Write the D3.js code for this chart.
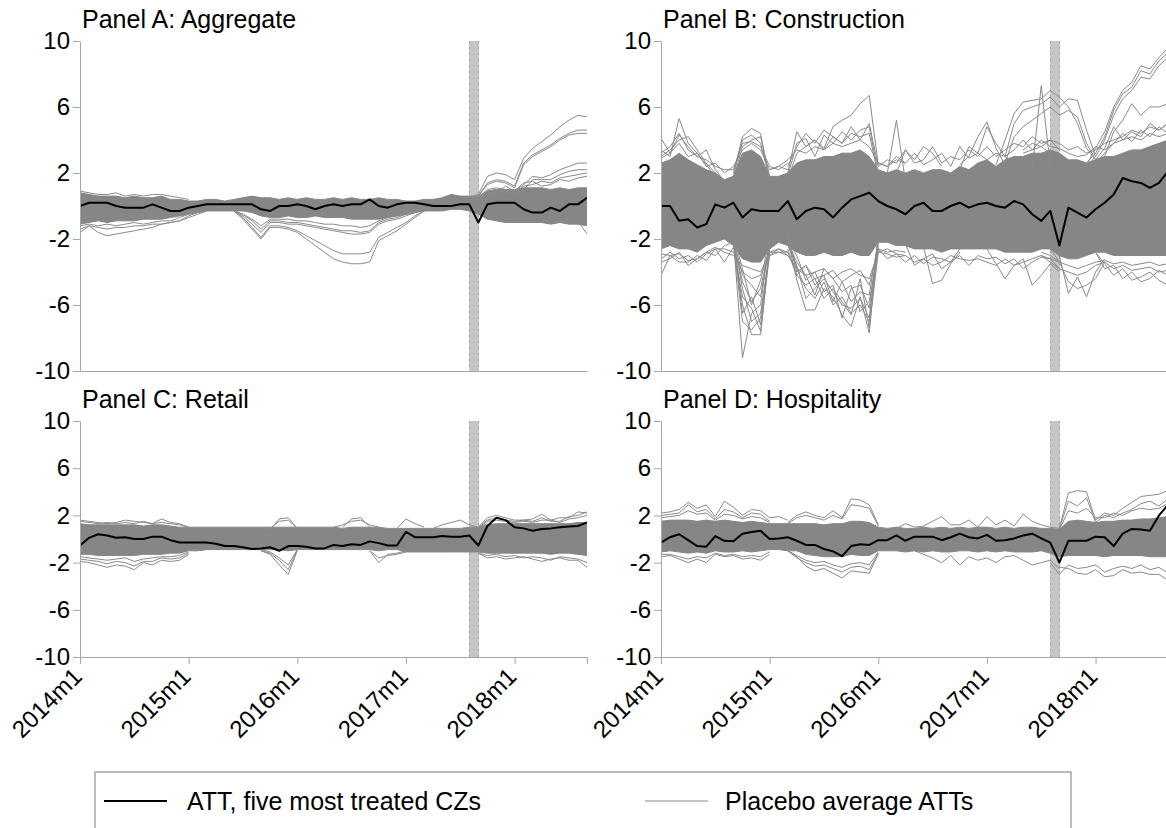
<!DOCTYPE html>
<html>
<head>
<meta charset="utf-8">
<script src="https://cdn.jsdelivr.net/npm/d3@7"></script>
<style>
  body { margin: 0; background: #fff; }
  svg { display: block; font-family: "Liberation Sans", Arial, sans-serif; }
</style>
</head>
<body>
<script>
// ---- data ----
var yTicks = [-10, -6, -2, 2, 6, 10];
var xTickMonths = [0, 12, 24, 36, 48];
var xTickLabels = ["2014m1", "2015m1", "2016m1", "2017m1", "2018m1"];
var stormMonths = [43, 44];   // 2017m8 - 2017m9
var panelTitles = ["Panel A: Aggregate", "Panel B: Construction", "Panel C: Retail", "Panel D: Hospitality"];
var legendLabels = ["ATT, five most treated CZs", "Placebo average ATTs"];

// ATT of the five most treated CZs, 2014m1 .. 2018m9
var attA = [0.0,0.2,0.2,0.2,0.0,-0.1,-0.1,-0.1,0.1,-0.1,-0.3,-0.3,
            -0.1,0.0,0.1,0.1,0.1,0.1,0.1,0.1,-0.2,-0.3,0.0,0.0,
            0.1,0.0,-0.2,0.0,0.1,0.0,0.1,0.1,0.4,0.0,-0.1,0.1,
            0.2,0.2,0.1,0.0,0.0,0.0,0.1,0.1,-1.0,0.1,0.2,0.2,
            0.2,-0.2,-0.4,-0.4,-0.1,-0.3,0.1,0.1,0.5];
var attB = [0.0,0.0,-0.9,-0.8,-1.3,-1.1,0.1,-0.1,0.2,-0.7,-0.2,-0.3,
            -0.3,-0.3,0.3,-0.8,-0.3,-0.1,-0.2,-0.7,-0.1,0.4,0.6,0.8,
            0.3,0.0,-0.2,-0.5,0.0,0.2,-0.3,-0.3,0.0,0.2,-0.1,0.1,
            0.2,0.0,-0.1,0.3,0.1,-0.5,-0.9,-0.3,-2.4,-0.1,-0.4,-0.7,
            -0.2,0.2,0.7,1.7,1.5,1.4,1.1,1.4,2.1];
var attC = [-0.55,0.1,0.4,0.3,0.1,0.15,0.0,0.0,0.2,0.2,-0.1,-0.3,
            -0.3,-0.3,-0.3,-0.4,-0.6,-0.6,-0.7,-0.85,-0.8,-0.7,-1.0,-0.6,
            -0.6,-0.65,-0.8,-0.8,-0.5,-0.6,-0.45,-0.5,-0.2,-0.35,-0.55,-0.55,
            0.6,0.15,0.15,0.15,0.25,0.2,0.2,0.3,-0.55,1.1,1.8,1.6,
            1.0,0.9,0.7,0.85,0.9,1.0,1.05,1.1,1.4];
var attD = [-0.3,0.15,0.4,-0.1,-0.6,-0.65,0.25,-0.15,-0.2,0.45,0.6,0.7,
            0.0,0.05,0.15,-0.15,-0.5,-0.5,-0.85,-1.05,-1.45,-0.6,-0.45,-0.5,
            -0.1,-0.1,0.3,-0.15,0.2,0.2,0.2,-0.1,0.15,0.45,0.15,0.05,
            0.35,-0.15,-0.1,0.05,0.3,0.45,0.05,-0.3,-2.0,-0.15,-0.15,-0.15,
            0.2,0.15,-0.6,0.45,0.85,0.8,0.7,2.0,2.9];

// dense core of the placebo lines: upper and lower edge per month
var bandHiA = [0.8,0.7,0.6,0.6,0.6,0.5,0.6,0.5,0.5,0.6,0.4,0.4,
               0.3,0.3,0.4,0.4,0.3,0.4,0.5,0.6,0.5,0.5,0.4,0.5,
               0.4,0.5,0.4,0.4,0.5,0.4,0.5,0.4,0.4,0.5,0.4,0.4,
               0.3,0.3,0.4,0.4,0.5,0.7,0.6,0.6,0.6,0.9,1.0,1.0,
               1.0,1.1,1.1,1.1,1.0,1.1,1.0,1.1,1.1];
var bandLoA = [-1.1,-1.0,-0.9,-1.0,-0.9,-0.9,-0.9,-0.8,-0.8,-0.8,-0.7,-0.6,
               -0.5,-0.4,-0.3,-0.3,-0.3,-0.3,-0.3,-0.4,-0.6,-0.7,-0.7,-0.6,
               -0.7,-0.7,-0.6,-0.7,-0.7,-0.7,-0.8,-0.8,-0.8,-0.8,-0.7,-0.6,
               -0.5,-0.4,-0.3,-0.3,-0.3,-0.2,-0.2,-0.3,-0.5,-0.8,-0.9,-1.0,
               -1.0,-1.0,-1.0,-1.0,-1.1,-1.0,-1.1,-1.1,-1.2];
var bandHiB = [2.6,2.8,3.2,2.8,2.5,2.2,2.0,1.6,1.8,3.2,3.4,3.0,
               1.8,1.8,2.0,2.6,2.8,2.8,3.0,3.0,3.2,3.2,3.4,3.0,
               2.2,2.0,2.2,2.0,2.2,2.0,2.2,2.2,2.0,2.4,2.2,2.6,
               2.8,2.4,2.8,3.0,3.0,3.2,3.2,3.4,3.2,2.8,2.8,2.6,
               2.8,3.0,3.0,3.2,3.4,3.4,3.6,3.8,4.0];
var bandLoB = [-2.6,-2.4,-2.6,-2.6,-2.8,-2.4,-2.2,-2.0,-2.4,-3.2,-3.4,-3.4,
               -2.6,-2.2,-2.4,-2.8,-3.0,-3.0,-2.8,-3.0,-3.0,-2.8,-3.0,-3.0,
               -2.2,-2.2,-2.4,-2.4,-2.6,-2.6,-2.6,-2.8,-2.6,-2.6,-2.6,-2.6,
               -2.6,-2.6,-2.8,-2.8,-2.8,-2.8,-2.6,-2.6,-3.0,-3.2,-3.2,-3.0,
               -2.8,-2.8,-3.0,-3.0,-3.0,-3.0,-3.0,-3.0,-3.0];
var bandHiC = [1.3,1.2,1.2,1.2,1.2,1.2,1.2,1.1,1.2,1.2,1.1,1.0,
               1.0,1.0,1.0,1.0,1.0,1.0,1.0,1.0,1.0,1.0,1.0,1.0,
               1.0,1.0,1.0,1.0,1.0,0.9,1.0,1.0,1.0,1.0,0.9,0.9,
               0.9,0.9,0.9,0.9,0.9,0.9,0.9,1.0,1.0,1.2,1.3,1.3,
               1.3,1.3,1.3,1.3,1.3,1.3,1.3,1.4,1.4];
var bandLoC = [-1.3,-1.3,-1.4,-1.4,-1.4,-1.4,-1.4,-1.3,-1.3,-1.3,-1.2,-1.2,
               -1.0,-1.0,-0.9,-0.9,-0.9,-0.9,-0.9,-0.9,-0.9,-0.9,-0.9,-1.0,
               -0.9,-0.9,-0.9,-0.9,-0.9,-0.9,-0.9,-0.9,-0.9,-1.0,-0.9,-0.9,
               -1.1,-1.1,-1.1,-1.1,-1.1,-1.1,-1.1,-1.1,-1.1,-1.2,-1.2,-1.2,
               -1.2,-1.2,-1.2,-1.2,-1.3,-1.2,-1.2,-1.3,-1.4];
var bandHiD = [1.5,1.6,1.6,1.6,1.5,1.6,1.5,1.6,1.5,1.4,1.5,1.4,
               1.3,1.3,1.3,1.3,1.3,1.3,1.2,1.3,1.3,1.5,1.5,1.4,
               1.0,0.9,1.0,0.9,0.9,1.0,0.9,1.0,0.9,1.0,0.9,1.0,
               1.0,0.9,1.0,0.9,1.0,1.0,0.9,0.9,0.8,1.5,1.6,1.5,
               1.4,1.5,1.5,1.6,1.6,1.7,1.7,1.8,1.9];
var bandLoD = [-1.1,-1.0,-1.1,-1.2,-1.1,-1.2,-1.0,-1.1,-1.1,-1.0,-1.1,-1.0,
               -0.9,-0.9,-1.0,-1.0,-1.3,-1.4,-1.5,-1.5,-1.5,-1.3,-1.4,-1.4,
               -1.0,-1.0,-1.0,-1.1,-1.0,-1.1,-1.0,-1.1,-1.1,-1.0,-1.0,-1.1,
               -1.0,-1.1,-1.0,-1.1,-1.1,-1.1,-1.0,-1.2,-1.5,-1.4,-1.4,-1.4,
               -1.4,-1.5,-1.4,-1.4,-1.4,-1.4,-1.5,-1.5,-1.5];

// placebo lines where they leave the dense core: first month + values
var outA = [
  {from: 43, v: [0.5,0.7,1.8,2.0,1.9,1.6,2.9,3.5,3.9,4.3,4.8,5.2,5.5,5.4]},
  {from: 43, v: [0.5,0.6,1.4,1.6,1.5,1.2,2.6,3.1,3.4,3.7,4.1,4.4,4.6,4.6]},
  {from: 43, v: [0.5,0.6,1.3,1.5,1.4,1.1,2.5,3.0,3.3,3.6,4.0,4.3,4.4,4.4]},
  {from: 43, v: [0.4,0.5,1.0,1.1,1.0,0.9,1.3,1.8,1.7,1.9,2.2,2.4,2.6,2.6]},
  {from: 43, v: [0.4,0.5,0.9,1.0,0.9,0.8,1.0,1.6,1.6,1.6,1.9,2.1,2.2,2.2]},
  {from: 43, v: [0.4,0.5,0.8,0.9,0.8,0.8,1.2,1.3,1.5,1.4,1.7,1.8,1.9,2.0]},
  {from: 43, v: [0.3,0.4,0.7,0.8,1.2,0.9,1.4,1.5,1.2,1.3,1.6,1.5,1.7,1.8]},
  {from: 52, v: [-0.9,-1.0,-0.9,-0.9,-1.7]},
  {from: 17, v: [-0.3,-0.8,-1.4,-2.0,-1.3,-1.3,-1.4,-1.6,-2.0,-2.4,-2.8,-3.2,-3.4,-3.5,-3.5,-3.4,-2.1,-1.8,-1.5,-1.1,-0.7,-0.3,-0.1]},
  {from: 17, v: [-0.3,-0.7,-1.3,-1.9,-1.2,-1.2,-1.3,-1.5,-1.8,-2.1,-2.4,-2.7,-2.9,-2.9,-2.9,-2.8,-1.9,-1.6,-1.3,-1.0,-0.6,-0.3,-0.1]},
  {from: 17, v: [-0.3,-0.6,-1.1,-1.6,-1.0,-1.0,-1.1,-1.1,-1.2,-1.3,-1.4,-1.5,-1.6,-1.7,-1.7,-1.6,-1.1,-0.9,-0.8,-0.6,-0.4,-0.2,-0.1]},
  {from: 17, v: [-0.3,-0.5,-0.9,-1.4,-0.9,-0.9,-1.0,-1.0,-1.1,-1.2,-1.3,-1.4,-1.5,-1.5,-1.6,-1.5,-1.0,-0.8,-0.7,-0.5,-0.4,-0.2,-0.1]},
  {from: 17, v: [-0.3,-0.5,-0.8,-1.2,-0.8,-0.8,-0.8,-0.9,-0.9,-1.0,-1.1,-1.1,-1.2,-1.2,-1.3,-1.2,-0.9,-0.7,-0.6,-0.5,-0.3,-0.2,-0.1]},
  {from: 0, v: [-1.6,-1.2,-1.6,-1.8,-1.7,-1.6,-1.5,-1.4,-1.3,-1.1,-1.0,-0.9,-0.7,-0.5,-0.3]},
  {from: 0, v: [-1.4,-1.2,-1.3,-1.4,-1.3,-1.3,-1.2,-1.2,-1.1,-1.1,-1.0,-0.9,-0.6,-0.4,-0.3]},
  {from: 0, v: [-1.2,-1.1,-1.2,-1.1,-1.2,-1.1,-1.0,-1.1,-1.0,-0.9,-0.9,-0.7,-0.5,-0.3]},
  {from: 0, v: [0.9,0.8,0.7,0.7,0.8,0.6,0.7,0.6,0.7,0.7,0.6,0.5,0.4]}
];
var outB = [
  {from: 0, v: [4.1,3.2,4.3,3.6,3.0,3.4,2.2,1.5]},
  {from: 0, v: [3.4,3.0,5.3,3.8,3.2,2.5,1.8]},
  {from: 0, v: [3.0,3.4,4.0,4.2,3.4,2.6,2.0,1.4]},
  {from: 0, v: [3.2,3.6,4.4,3.4,3.0,2.8,2.4,2.2,2.2,3.8,3.9,3.6,2.4,2.2,2.6]},
  {from: 0, v: [2.9,3.2,3.8,3.0,3.2,2.4,2.6,2.0,2.4,3.4,3.8,3.4,2.2,2.4,2.2]},
  {from: 0, v: [-4.2,-3.0,-3.4,-3.4,-3.0,-3.3,-2.6,-3.4,-2.5,-2.0]},
  {from: 0, v: [-3.4,-3.2,-2.8,-3.6,-3.2,-2.8,-3.0,-2.4,-2.2]},
  {from: 0, v: [-3.2,-2.8,-3.2,-3.0,-3.4,-2.9,-2.6,-2.6,-2.8,-4.0,-4.4,-4.2,-3.0,-2.6,-2.8]},
  {from: 0, v: [-2.9,-3.0,-2.9,-3.3,-3.2,-2.8,-2.5,-2.8,-3.0,-3.6,-3.8,-4.0,-2.8,-2.8,-3.0]},
  {from: 8, v: [-2.0,-9.2,-6.5,-6.0,-2.0]},
  {from: 8, v: [-2.2,-6.0,-7.8,-7.8,-2.5]},
  {from: 8, v: [-2.0,-5.0,-7.0,-6.5,-3.0]},
  {from: 8, v: [-2.0,-6.5,-5.5,-7.2,-2.4]},
  {from: 8, v: [-2.0,-4.2,-4.8,-5.5,-2.2]},
  {from: 8, v: [-1.8,-3.8,-6.0,-4.5,-2.0]},
  {from: 8, v: [-2.2,-7.0,-7.5,-6.8,-2.6]},
  {from: 8, v: [-2.4,-5.5,-6.2,-7.6,-2.8]},
  {from: 8, v: [-2.2,-4.6,-5.8,-5.0,-2.4]},
  {from: 8, v: [2.0,4.2,4.7,4.4,1.5]},
  {from: 8, v: [1.8,4.0,4.3,3.8,1.6]},
  {from: 8, v: [1.6,3.6,4.0,4.2,1.8]},
  {from: 12, v: [2.2,2.4,2.8,3.4,3.2,3.6,3.4,3.8,3.6,3.8,4.0,3.6,2.6,2.4,2.8,2.6]},
  {from: 12, v: [-2.8,-2.6,-3.0,-3.8,-4.2,-4.0,-3.8,-4.4,-4.0,-3.8,-4.2,-4.4,-2.8,-2.6,-2.9,-3.0]},
  {from: 12, v: [-3.0,-2.8,-2.8,-4.2,-3.6,-4.4,-4.2,-3.9,-4.6,-4.2,-3.9,-4.8,-2.6,-2.8,-2.7,-2.8]},
  {from: 14, v: [-2.0,-4.5,-6.3,-6.3,-5.0,-5.5,-6.6,-7.3,-5.5,-7.7,-2.0]},
  {from: 14, v: [-1.8,-3.8,-5.0,-5.6,-4.6,-6.0,-5.5,-6.5,-6.0,-7.0,-1.8]},
  {from: 14, v: [-2.2,-3.0,-4.5,-4.0,-5.2,-4.8,-6.8,-5.0,-4.8,-6.2,-2.2]},
  {from: 14, v: [-2.0,-4.0,-3.6,-4.8,-4.2,-5.8,-4.6,-5.8,-5.2,-5.4,-2.0]},
  {from: 14, v: [-2.4,-3.6,-5.6,-5.0,-4.4,-5.2,-6.0,-6.2,-5.6,-6.8,-2.4]},
  {from: 14, v: [-2.2,-3.4,-4.2,-5.4,-3.8,-4.4,-5.2,-4.8,-6.4,-5.8,-2.6]},
  {from: 14, v: [-2.6,-4.2,-4.8,-4.4,-5.6,-5.0,-5.8,-6.6,-4.4,-7.4,-2.8]},
  {from: 14, v: [2.0,4.5,3.6,4.0,3.5,4.8,5.2,5.5,6.2,6.7,2.5]},
  {from: 14, v: [1.8,3.8,4.1,3.0,4.3,3.8,4.5,4.0,4.6,4.8,2.0]},
  {from: 14, v: [1.6,3.2,3.6,4.0,3.4,4.2,3.8,4.4,4.2,4.4,1.8]},
  {from: 14, v: [2.4,3.6,4.4,3.8,4.6,4.2,3.8,4.8,4.0,5.0,2.4]},
  {from: 24, v: [2.4,2.8,2.6,3.4,2.6,2.8,3.6,2.6,3.0,2.8,3.4,3.0,3.6,3.0,3.4,3.8,3.6,4.2,3.8,4.0,3.4]},
  {from: 24, v: [2.6,2.4,3.0,2.6,3.2,2.5,2.8,3.2,2.4,3.6,2.9,3.2,2.8,3.2,3.0,3.4,4.0,3.4,3.6,3.2,3.0]},
  {from: 24, v: [-2.8,-2.9,-3.1,-3.0,-3.4,-3.2,-3.6,-3.4,-3.0,-3.2,-3.3,-3.2,-3.4,-3.6,-3.2,-3.6,-3.4,-3.2,-3.0,-3.4,-3.8]},
  {from: 24, v: [-2.6,-3.2,-2.9,-3.4,-3.0,-3.5,-3.1,-3.2,-3.4,-3.0,-3.6,-3.0,-3.2,-3.1,-3.5,-3.2,-3.8,-3.4,-3.1,-3.2,-3.4]},
  {from: 25, v: [2.0,5.2,1.5]},
  {from: 26, v: [2.0,3.4,2.8,3.6,3.2,2.4]},
  {from: 29, v: [-2.5,-4.7,-4.5,-3.5,-2.8]},
  {from: 27, v: [-2.3,-3.6,-3.2,-2.9,-3.8,-3.4,-2.6]},
  {from: 33, v: [2.5,3.0,4.2,5.1,3.5,2.5]},
  {from: 33, v: [2.2,3.6,3.2,4.8,3.8,3.0,2.6]},
  {from: 37, v: [2.5,4.0,5.6,6.3,6.4,6.5,7.0,6.6,6.0,5.0,3.5,2.8]},
  {from: 38, v: [3.0,5.0,5.8,6.0,6.2,6.6,6.0,6.5,6.4,4.6,3.0]},
  {from: 38, v: [2.6,4.2,4.8,5.2,5.6,6.0,5.5,5.8,5.4,3.8,2.8]},
  {from: 40, v: [3.4,3.8,3.6,4.0,3.8,3.4,3.6,3.2,3.4,3.8,4.0,4.2,4.6,4.4,4.8,4.6,5.0]},
  {from: 40, v: [3.2,3.4,4.0,3.6,3.5,3.2,3.0,3.1,3.6,3.4,3.8,4.0,4.2,4.0,4.4,4.2,4.4]},
  {from: 41, v: [2.2,7.3,2.4]},
  {from: 36, v: [-2.6,-3.5,-4.4,-3.6,-3.2,-4.8,-4.2,-3.5,-4.0]},
  {from: 42, v: [-3.0,-3.2,-3.8,-4.0,-4.2,-4.0,-3.6,-3.4,-3.8,-3.6,-3.9,-3.8,-3.7,-4.0,-3.9]},
  {from: 42, v: [-2.8,-3.0,-3.4,-3.6,-3.8,-3.6,-3.4,-3.3,-3.5,-3.4,-3.6,-3.5,-3.4,-3.6,-3.5]},
  {from: 43, v: [-2.6,-3.0,-5.3,-4.3,-5.5,-4.0,-3.2]},
  {from: 43, v: [-2.6,-3.4,-4.6,-5.0,-4.8,-4.4,-3.4]},
  {from: 47, v: [2.5,3.5,4.5,6.0,7.0,7.5,8.5,8.3,9.0,9.6]},
  {from: 47, v: [2.6,3.2,4.2,5.8,6.8,7.2,8.2,8.0,8.8,9.3]},
  {from: 47, v: [2.4,3.0,4.0,5.5,6.5,7.0,7.8,7.7,8.5,9.0]},
  {from: 48, v: [2.8,3.0,4.5,5.2,6.2,5.5,6.0,6.0,6.2]},
  {from: 48, v: [2.8,3.5,4.8,4.0,4.5,4.2,5.0,4.6,5.0]},
  {from: 48, v: [2.6,3.2,3.8,4.4,3.9,4.6,4.2,4.8,4.4]},
  {from: 48, v: [-2.8,-3.5,-4.2,-3.8,-4.5,-4.3,-4.0,-4.5,-4.8]},
  {from: 48, v: [-2.8,-3.8,-3.6,-4.4,-4.0,-4.6,-4.4,-3.9,-4.2]}
];
var outC = [
  {from: 0, v: [-1.9,-2.0,-2.2,-2.4,-2.2,-2.3,-2.6,-2.0,-2.2,-1.8,-1.9,-1.8,-1.3]},
  {from: 0, v: [-1.7,-1.8,-1.9,-2.1,-1.9,-2.0,-2.3,-1.9,-1.9,-1.6,-1.7,-1.6,-1.2]},
  {from: 0, v: [-1.5,-1.6,-1.7,-1.8,-1.7,-1.6,-1.9,-1.7,-1.6,-1.5,-1.5,-1.4,-1.1]},
  {from: 0, v: [1.6,1.5,1.4,1.3,1.4,1.6,1.5,1.4,1.3,1.7,1.4,1.3,1.0]},
  {from: 0, v: [1.5,1.4,1.3,1.4,1.3,1.4,1.3,1.5,1.3,1.4,1.3,1.2,1.0]},
  {from: 20, v: [0.9,0.8,1.7,1.8,0.9]},
  {from: 20, v: [0.9,0.9,1.5,1.6,0.9]},
  {from: 20, v: [-1.0,-1.3,-2.2,-3.0,-1.0]},
  {from: 20, v: [-1.0,-1.2,-1.8,-2.6,-0.9]},
  {from: 20, v: [-0.9,-1.1,-1.6,-2.2,-0.9]},
  {from: 29, v: [1.0,1.7,1.8,1.0]},
  {from: 28, v: [1.0,1.2,1.5,1.6,1.2,1.0]},
  {from: 32, v: [-1.0,-2.0,-1.3,-1.2,-1.0]},
  {from: 32, v: [-1.0,-1.6,-1.4,-1.3,-1.1]},
  {from: 35, v: [0.9,1.7,1.3,1.0]},
  {from: 39, v: [0.9,1.2,1.4,1.6,1.2,1.0,1.3]},
  {from: 44, v: [1.0,1.8,2.0,1.8,1.6,1.6,1.7,2.1,1.6,1.8,1.8,2.3,2.2]},
  {from: 44, v: [1.0,1.6,1.8,1.6,1.5,1.6,1.5,1.8,1.5,1.5,1.9,2.0,2.3]},
  {from: 44, v: [1.0,1.5,1.6,1.5,1.4,1.5,1.4,1.6,1.6,1.4,1.7,1.8,2.0]},
  {from: 44, v: [-1.2,-1.6,-1.5,-1.7,-1.6,-1.5,-1.7,-1.9,-1.7,-1.6,-1.8,-1.8,-2.4]},
  {from: 44, v: [-1.2,-1.4,-1.3,-1.5,-1.4,-1.6,-1.5,-1.6,-1.8,-1.5,-1.6,-1.7,-2.0]}
];
var outD = [
  {from: 0, v: [2.2,2.3,2.5,3.1,2.6,2.9,1.9,3.2,2.7,2.0,2.5,2.4,1.8,1.9,1.6]},
  {from: 0, v: [2.0,2.1,2.2,2.9,2.3,2.5,1.7,2.5,2.3,1.8,2.2,2.1,1.5]},
  {from: 0, v: [1.8,1.9,2.0,2.4,2.1,2.2,1.6,2.1,2.0,1.7,1.9,1.8,1.4]},
  {from: 0, v: [-1.5,-1.4,-1.7,-2.0,-1.7,-2.0,-1.3,-1.5,-1.4,-1.7,-1.6,-1.8,-1.3]},
  {from: 0, v: [-1.3,-1.3,-1.5,-1.7,-1.5,-1.6,-1.2,-1.4,-1.3,-1.5,-1.4,-1.5,-1.1]},
  {from: 14, v: [1.4,2.0,2.3,2.0,1.8,2.4,1.8,3.4,3.3,2.9,1.2]},
  {from: 14, v: [1.3,1.8,2.0,1.8,1.6,2.0,1.7,2.9,2.8,2.6,1.1]},
  {from: 14, v: [-1.0,-1.5,-2.3,-2.7,-2.5,-2.9,-3.3,-2.7,-2.8,-2.9,-1.3]},
  {from: 14, v: [-1.0,-1.6,-2.0,-2.3,-2.2,-2.5,-2.8,-2.4,-2.3,-2.6,-1.2]},
  {from: 14, v: [-1.0,-1.4,-1.8,-2.0,-1.9,-2.2,-2.4,-2.1,-2.0,-2.2,-1.1]},
  {from: 26, v: [0.9,1.3,1.0,1.1,1.5,1.9,1.2,1.2,1.6,1.0,1.9,1.2,1.6,1.1,2.1,1.5,1.2,1.0,0.9]},
  {from: 28, v: [-1.0,-1.3,-1.6,-2.0,-1.4,-2.2,-1.5,-1.8,-1.6,-2.0,-1.5,-1.4,-1.8,-2.2,-2.0,-1.8,-2.5]},
  {from: 44, v: [0.9,3.9,4.1,4.0,1.6,2.2,2.0,2.6,3.1,3.6,3.7,3.8,4.1]},
  {from: 44, v: [0.9,3.2,2.8,3.5,1.4,2.0,1.8,2.2,2.5,3.0,3.2,2.8,3.4]},
  {from: 44, v: [0.8,2.4,2.2,2.6,1.8,1.8,2.2,2.0,2.4,2.6,2.5,2.6,3.0]},
  {from: 44, v: [-2.4,-2.5,-2.9,-3.0,-2.6,-3.2,-3.1,-2.6,-2.9,-2.8,-3.0,-3.0,-3.5]},
  {from: 43, v: [-2.0,-3.0,-2.2,-2.5,-2.4,-2.2,-2.8,-2.5,-2.3,-2.5,-2.2,-2.6,-2.4,-2.9]}
];

// ---- layout ----
var W = 1166, H = 828;
var plotW = 507;
var panels = [
  {title: panelTitles[0], att: attA, hi: bandHiA, lo: bandLoA, out: outA, left: 80,  top: 41,  bottom: 371, labels: false},
  {title: panelTitles[1], att: attB, hi: bandHiB, lo: bandLoB, out: outB, left: 661, top: 41,  bottom: 371, labels: false},
  {title: panelTitles[2], att: attC, hi: bandHiC, lo: bandLoC, out: outC, left: 80,  top: 421, bottom: 657, labels: true},
  {title: panelTitles[3], att: attD, hi: bandHiD, lo: bandLoD, out: outD, left: 661, top: 421, bottom: 657, labels: true}
];

var axisColor = "#a6a6a6";
var lineGray = "#8a8a8a";
var fontFam = "'Liberation Sans', Arial, sans-serif";

var svg = d3.select("body").append("svg")
    .attr("width", W).attr("height", H);

svg.append("rect").attr("width", W).attr("height", H).attr("fill", "#fff");

panels.forEach(function (p, i) {
  var x = d3.scaleLinear().domain([0, 56]).range([p.left, p.left + plotW]);
  var y = d3.scaleLinear().domain([-10, 10]).range([p.bottom, p.top]);

  var clipId = "clip" + i;
  svg.append("clipPath").attr("id", clipId)
    .append("rect")
      .attr("x", p.left).attr("y", p.top)
      .attr("width", plotW).attr("height", p.bottom - p.top);

  var g = svg.append("g");
  var plot = g.append("g").attr("clip-path", "url(#" + clipId + ")");

  // hurricane month band
  var bx0 = Math.round(x(stormMonths[0])), bx1 = Math.round(x(stormMonths[1])) + 1;
  plot.append("rect")
    .attr("x", bx0).attr("y", p.top)
    .attr("width", bx1 - bx0).attr("height", p.bottom - p.top)
    .attr("fill", "#c6c6c6");
  [bx0 + 0.5, bx1 - 0.5].forEach(function (bx) {
    plot.append("line")
      .attr("x1", bx).attr("x2", bx)
      .attr("y1", p.top).attr("y2", p.bottom)
      .attr("stroke", "#a2a2a2").attr("stroke-width", 1)
      .attr("stroke-dasharray", "2,4");
  });

  // dense core of placebo lines
  var months = d3.range(p.hi.length);
  var area = d3.area()
      .x(function (m) { return x(m); })
      .y0(function (m) { return y(p.lo[m]); })
      .y1(function (m) { return y(p.hi[m]); });
  plot.append("path")
    .attr("d", area(months))
    .attr("fill", "#868686")
    .attr("stroke", "#868686")
    .attr("stroke-width", 1);

  // outlying placebo lines
  var seg = d3.line()
      .x(function (d) { return x(d[0]); })
      .y(function (d) { return y(d[1]); });
  p.out.forEach(function (o) {
    var pts = o.v.map(function (v, k) { return [o.from + k, v]; });
    plot.append("path")
      .attr("d", seg(pts))
      .attr("fill", "none")
      .attr("stroke", lineGray)
      .attr("stroke-width", 1);
  });

  // ATT line
  var attLine = d3.line()
      .x(function (d, k) { return x(k); })
      .y(function (d) { return y(d); });
  plot.append("path")
    .attr("d", attLine(p.att))
    .attr("fill", "none")
    .attr("stroke", "#000")
    .attr("stroke-width", 2)
    .attr("stroke-linejoin", "round");

  // y axis
  var yAxis = d3.axisLeft(y).tickValues(yTicks).tickSize(7).tickSizeOuter(0).tickPadding(3)
      .tickFormat(function (d) { return String(d); });
  var yg = g.append("g").attr("transform", "translate(" + p.left + ",0)").call(yAxis);
  yg.select(".domain").attr("stroke", axisColor);
  yg.selectAll(".tick line").attr("stroke", axisColor);
  yg.selectAll("text")
    .attr("fill", "#000")
    .style("font-size", "24px")
    .style("font-family", fontFam);

  // x axis
  var xAxis = d3.axisBottom(x).tickSizeOuter(0);
  if (p.labels) {
    xAxis.tickValues(xTickMonths).tickSize(7)
      .tickFormat(function (d, k) { return xTickLabels[k]; });
  } else {
    xAxis.tickValues([]).tickSize(0);
  }
  var xg = g.append("g").attr("transform", "translate(0," + p.bottom + ")").call(xAxis);
  xg.select(".domain").attr("stroke", axisColor);
  xg.selectAll(".tick line").attr("stroke", axisColor);
  xg.selectAll("text")
    .attr("fill", "#000")
    .attr("x", 0).attr("y", 0).attr("dy", "0.35em")
    .attr("transform", "translate(-3,15) rotate(-45)")
    .style("text-anchor", "end")
    .style("font-size", "24px")
    .style("font-family", fontFam);

  // panel title
  g.append("text")
    .attr("x", p.left + 2)
    .attr("y", p.top - 13)
    .style("font-size", "25px")
    .attr("fill", "#000")
    .text(p.title);
});

// ---- legend ----
var leg = svg.append("g");
leg.append("rect")
  .attr("x", 95).attr("y", 772)
  .attr("width", 976).attr("height", 80)
  .attr("fill", "#fff")
  .attr("stroke", axisColor).attr("stroke-width", 1.5);

var legItems = [
  {label: legendLabels[0], color: "#000", width: 2, x1: 104, x2: 167, tx: 187},
  {label: legendLabels[1], color: lineGray, width: 1, x1: 645, x2: 708, tx: 725}
];
legItems.forEach(function (it) {
  leg.append("line")
    .attr("x1", it.x1).attr("x2", it.x2)
    .attr("y1", 801).attr("y2", 801)
    .attr("stroke", it.color).attr("stroke-width", it.width);
  leg.append("text")
    .attr("x", it.tx).attr("y", 810)
    .style("font-size", "25px")
    .attr("fill", "#000")
    .text(it.label);
});
</script>
</body>
</html>
